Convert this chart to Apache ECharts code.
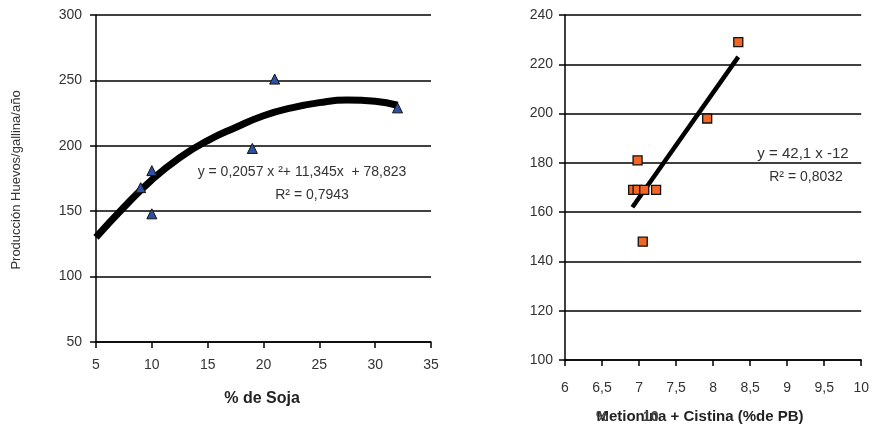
<!DOCTYPE html>
<html><head><meta charset="utf-8">
<script src="https://cdn.jsdelivr.net/npm/echarts@6/dist/echarts.min.js"></script>
<style>html,body{margin:0;padding:0;background:#fff}#c{width:872px;height:430px}</style>
</head><body><div id="c"></div>
<script>
// Left chart: % de Soja vs Producción
const sojaPoints = [[9, 168], [10, 181], [10, 148], [19, 198], [21, 251], [32, 229]];
const sojaTrend = [[5, 130], [7.5, 153], [10, 174], [12.5, 191], [15, 204], [17.5, 214], [20, 223], [22.5, 229], [25, 233], [27.5, 235], [30, 234], [32, 231]];
const sojaXTicks = [5, 10, 15, 20, 25, 30, 35];
const sojaYTicks = [50, 100, 150, 200, 250, 300];
// Right chart: Metionina + Cistina vs Producción
const metPoints = [[6.92, 169], [6.98, 169], [7.07, 169], [7.23, 169], [6.98, 181], [7.05, 148], [7.92, 198], [8.34, 229]];
const metTrend = [[6.91, 162], [8.34, 223]];
const metXTicks = [6, 6.5, 7, 7.5, 8, 8.5, 9, 9.5, 10];
const metYTicks = [100, 120, 140, 160, 180, 200, 220, 240];

const FONT = "'Liberation Sans Narrow','Liberation Sans',Arial,sans-serif";
const FONT2 = "'Liberation Sans',Arial,sans-serif";
const fmt = v => String(v).replace('.', ',');
const axisLine = {show: true, lineStyle: {color: '#000', width: 1.5}};
const split = {show: true, lineStyle: {color: '#000', width: 1.5}};
const tick = {show: true, length: 6, inside: false, lineStyle: {color: '#000', width: 1.5}};

const chart = echarts.init(document.getElementById('c'), null, {renderer: 'canvas'});
chart.setOption({
  animation: false,
  backgroundColor: '#fff',
  grid: [
    {left: 96, top: 15, width: 335, height: 327},
    {left: 565, top: 15, width: 299, height: 345}
  ],
  xAxis: [
    {gridIndex: 0, type: 'value', min: sojaXTicks[0], max: sojaXTicks[sojaXTicks.length - 1], interval: 5,
     axisLine: axisLine, axisTick: tick, splitLine: {show: false},
     axisLabel: {color: '#333', fontFamily: FONT, fontSize: 14, margin: 16, formatter: fmt}},
    {gridIndex: 1, type: 'value', min: metXTicks[0], max: metXTicks[metXTicks.length - 1], interval: 0.5,
     axisLine: axisLine, axisTick: tick, splitLine: {show: false},
     axisLabel: {color: '#333', fontFamily: FONT, fontSize: 14, margin: 21, formatter: fmt}}
  ],
  yAxis: [
    {gridIndex: 0, type: 'value', min: sojaYTicks[0], max: sojaYTicks[sojaYTicks.length - 1], interval: 50,
     axisLine: axisLine, axisTick: tick, splitLine: split,
     axisLabel: {color: '#333', fontFamily: FONT2, fontSize: 14, margin: 14, formatter: fmt}},
    {gridIndex: 1, type: 'value', min: metYTicks[0], max: metYTicks[metYTicks.length - 1], interval: 20,
     axisLine: axisLine, axisTick: tick, splitLine: split,
     axisLabel: {color: '#333', fontFamily: FONT2, fontSize: 14, margin: 12, formatter: fmt}}
  ],
  series: [
    {type: 'line', xAxisIndex: 0, yAxisIndex: 0, data: sojaTrend, smooth: true, symbol: 'none',
     lineStyle: {color: '#000', width: 7}, z: 2},
    {type: 'scatter', xAxisIndex: 0, yAxisIndex: 0, data: sojaPoints, symbol: 'triangle', symbolSize: [10, 10],
     itemStyle: {color: '#2F4FA0', borderColor: '#111', borderWidth: 1, opacity: 1}, z: 3},
    {type: 'line', xAxisIndex: 1, yAxisIndex: 1, data: metTrend, symbol: 'none',
     lineStyle: {color: '#000', width: 4.5}, z: 2},
    {type: 'scatter', xAxisIndex: 1, yAxisIndex: 1, data: metPoints, symbol: 'rect', symbolSize: [9, 9],
     itemStyle: {color: '#F26524', borderColor: '#111', borderWidth: 1.3, opacity: 1}, z: 3}
  ],
  graphic: [
    {type: 'text', x: 16, y: 180, rotation: Math.PI / 2, style: {text: 'Producción Huevos/gallina/año', fill: '#333', font: '13px ' + FONT2, align: 'center', verticalAlign: 'middle'}},
    {type: 'text', x: 262, y: 399, style: {text: '% de Soja', fill: '#222', font: 'bold 16px ' + FONT2, align: 'center', verticalAlign: 'middle'}},
    {type: 'text', x: 302, y: 172, style: {text: 'y = 0,2057 x ²+ 11,345x  + 78,823', fill: '#333', font: '14px ' + FONT, align: 'center', verticalAlign: 'middle'}},
    {type: 'text', x: 312, y: 195, style: {text: 'R² = 0,7943', fill: '#333', font: '14px ' + FONT, align: 'center', verticalAlign: 'middle'}},
    {type: 'text', x: 803, y: 154, style: {text: 'y = 42,1 x -12', fill: '#333', font: '15px ' + FONT, align: 'center', verticalAlign: 'middle'}},
    {type: 'text', x: 806, y: 177, style: {text: 'R² = 0,8032', fill: '#333', font: '14px ' + FONT, align: 'center', verticalAlign: 'middle'}},
    {type: 'text', x: 700, y: 417, style: {text: 'Metionina + Cistina (%de PB)', fill: '#222', font: 'bold 15px ' + FONT2, align: 'center', verticalAlign: 'middle'}},
    {type: 'text', x: 596, y: 417, style: {text: '%', fill: '#444', font: 'bold 14px ' + FONT2, align: 'left', verticalAlign: 'middle'}},
    {type: 'text', x: 643, y: 417, style: {text: '10', fill: '#444', font: 'bold 14px ' + FONT2, align: 'left', verticalAlign: 'middle'}}
  ]
});
</script></body></html>
